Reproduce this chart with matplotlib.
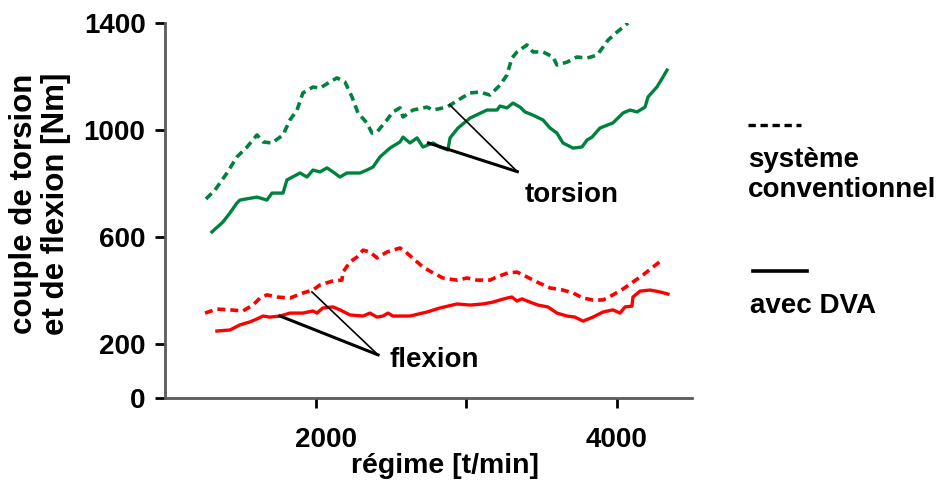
import numpy as np
import matplotlib
matplotlib.use("Agg")
import matplotlib.pyplot as plt
from matplotlib.lines import Line2D
from matplotlib.transforms import ScaledTranslation

plt.rcParams['font.family'] = ['Liberation Sans', 'DejaVu Sans']
plt.rcParams['font.weight'] = 'bold'

# %% data (régime in t/min, couple in Nm)

# torsion, système conventionnel (dashed green)
tors_conv_x = [1272, 1332, 1412, 1478, 1545, 1611, 1651, 1711, 1784, 1830, 1877, 1916,
               1983, 2029, 2096, 2142, 2195, 2242, 2282, 2341, 2375, 2408, 2474, 2514,
               2561, 2581, 2647, 2740, 2780, 2873, 2946, 3026, 3092, 3158, 3225, 3271,
               3304, 3338, 3404, 3444, 3510, 3577, 3603, 3670, 3736, 3803, 3869, 3909,
               3942, 4002, 4075]
tors_conv_y = [743, 776, 840, 900, 937, 982, 956, 952, 982, 1038, 1075, 1139,
               1161, 1157, 1180, 1195, 1180, 1124, 1064, 1027, 989, 993, 1038, 1068,
               1083, 1049, 1075, 1086, 1075, 1086, 1112, 1139, 1142, 1131, 1168, 1206,
               1269, 1292, 1318, 1292, 1292, 1273, 1243, 1254, 1273, 1269, 1280, 1310,
               1336, 1366, 1400]

# torsion, avec DVA (solid green)
tors_dva_x = [1312, 1385, 1432, 1478, 1498, 1611, 1677, 1711, 1784, 1810, 1897, 1943,
              1983, 2029, 2076, 2116, 2162, 2209, 2295, 2341, 2381, 2428, 2494, 2561,
              2581, 2627, 2674, 2713, 2780, 2826, 2879, 2893, 2946, 3026, 3138, 3205,
              3225, 3271, 3311, 3358, 3391, 3444, 3510, 3557, 3603, 3643, 3710, 3769,
              3803, 3836, 3889, 3975, 4042, 4088, 4135, 4188, 4208, 4267, 4307, 4334]
tors_dva_y = [620, 657, 691, 728, 739, 750, 739, 765, 765, 814, 840, 825,
              851, 844, 859, 844, 825, 840, 840, 851, 862, 900, 933, 956,
              974, 952, 971, 937, 952, 937, 926, 971, 1008, 1045, 1075, 1075,
              1090, 1083, 1101, 1086, 1068, 1056, 1038, 1008, 989, 952, 933, 937,
              963, 974, 1008, 1027, 1064, 1075, 1068, 1086, 1124, 1161, 1198, 1224]

# flexion, système conventionnel (dashed red)
flex_conv_x = [1266, 1345, 1432, 1518, 1584, 1631, 1677, 1744, 1830, 1916, 1983, 2029,
               2116, 2175, 2182, 2229, 2275, 2315, 2361, 2408, 2474, 2561, 2607, 2674,
               2713, 2780, 2846, 2939, 3006, 3072, 3158, 3205, 3278, 3338, 3404, 3470,
               3557, 3643, 3710, 3776, 3842, 3909, 3975, 4042, 4108, 4174, 4241, 4301]
flex_conv_y = [317, 332, 329, 325, 347, 373, 385, 377, 373, 392, 403, 422,
               437, 440, 470, 508, 526, 552, 545, 523, 545, 560, 541, 508,
               489, 467, 448, 440, 448, 440, 440, 452, 467, 470, 452, 433,
               411, 403, 392, 373, 366, 366, 385, 407, 433, 459, 489, 515]

# flexion, avec DVA (solid red)
flex_dva_x = [1345, 1432, 1498, 1564, 1611, 1651, 1697, 1764, 1830, 1916, 1983, 2009,
              2049, 2116, 2162, 2229, 2315, 2361, 2408, 2448, 2481, 2514, 2627, 2740,
              2826, 2939, 3026, 3112, 3178, 3225, 3271, 3304, 3338, 3371, 3424, 3477,
              3543, 3603, 3670, 3723, 3776, 3842, 3909, 3975, 4022, 4055, 4101, 4108,
              4155, 4221, 4287, 4340]
flex_dva_y = [250, 254, 273, 284, 295, 306, 302, 306, 317, 317, 325, 317,
              336, 340, 329, 310, 306, 317, 302, 306, 317, 306, 306, 321,
              336, 351, 347, 351, 358, 366, 373, 377, 362, 370, 358, 347,
              340, 317, 306, 302, 287, 302, 321, 329, 317, 340, 343, 377,
              399, 403, 396, 388]

# pointer lines of the two labels: tip near the label, then targets on the curves
tors_tip = (3340, 845)
tors_targets = [(2890, 1095), (2750, 952)]
flex_tip = (2415, 161)
flex_targets = [(1976, 396), (1764, 306)]

yticks = [0, 200, 600, 1000, 1400]
xticks = [2000, 3000, 4000]
xticklabels = ['2000', '', '4000']

# %% figure

green = '#00823f'
red = '#ff0000'
dash = (0, (2.2, 1.4))
fs = 20

fig = plt.figure(figsize=(9.41, 4.84), dpi=100)
ax = fig.add_axes([0.1753, 0.1777, 0.5601, 0.7748])

ax.plot(tors_conv_x, tors_conv_y, color=green, lw=2.6, ls=dash)
ax.plot(tors_dva_x, tors_dva_y, color=green, lw=2.4)
ax.plot(flex_conv_x, flex_conv_y, color=red, lw=2.6, ls=dash)
ax.plot(flex_dva_x, flex_dva_y, color=red, lw=2.4)

# pointers: first thin, second thicker
for (tip, targets) in [(tors_tip, tors_targets), (flex_tip, flex_targets)]:
    for k, t in enumerate(targets):
        ax.plot([t[0], tip[0]], [t[1], tip[1]], color='black', lw=1.2 if k == 0 else 2.2)

ax.text(3390, 758, 'torsion', fontsize=fs, fontweight='bold', va='center', ha='left')
ax.text(2494, 142, 'flexion', fontsize=fs, fontweight='bold', va='center', ha='left')

ax.set_xlim(1000, 4500)
ax.set_ylim(0, 1400)
ax.set_yticks(yticks)
ax.set_xticks(xticks)
ax.set_xticklabels(xticklabels)
ax.tick_params(axis='both', labelsize=fs, width=2, length=7, color='black')
ax.tick_params(axis='x', pad=14)
ax.tick_params(axis='y', pad=7)
for lab in ax.get_xticklabels() + ax.get_yticklabels():
    lab.set_fontweight('bold')
# the "2000" label sits a little right of its tick in the original
lab0 = ax.get_xticklabels()[0]
lab0.set_transform(lab0.get_transform() + ScaledTranslation(0.1, 0, fig.dpi_scale_trans))

for s in ['top', 'right']:
    ax.spines[s].set_visible(False)
for s in ['left', 'bottom']:
    ax.spines[s].set_color('#5a5a5a')
    ax.spines[s].set_linewidth(2)

ax.set_xlabel('régime [t/min]', fontsize=20.5, fontweight='bold')
ax.xaxis.set_label_coords(0.531, -0.148)
ax.set_ylabel('couple de torsion\net de flexion [Nm]', fontsize=22.5, fontweight='bold',
              linespacing=1.1)
ax.yaxis.set_label_coords(-0.178, 0.517)

# legend drawn by hand, to the right of the plot
fig.add_artist(Line2D([0.795, 0.851], [0.742, 0.742], color='black', lw=2.4, ls=dash))
fig.text(0.795, 0.670, 'système', fontsize=fs, fontweight='bold', va='center')
fig.text(0.795, 0.608, 'conventionnel', fontsize=fs, fontweight='bold', va='center')
fig.add_artist(Line2D([0.800, 0.858], [0.441, 0.441], color='black', lw=2.6))
fig.text(0.797, 0.368, 'avec DVA', fontsize=fs, fontweight='bold', va='center')

fig.savefig('out.png', dpi=100)
